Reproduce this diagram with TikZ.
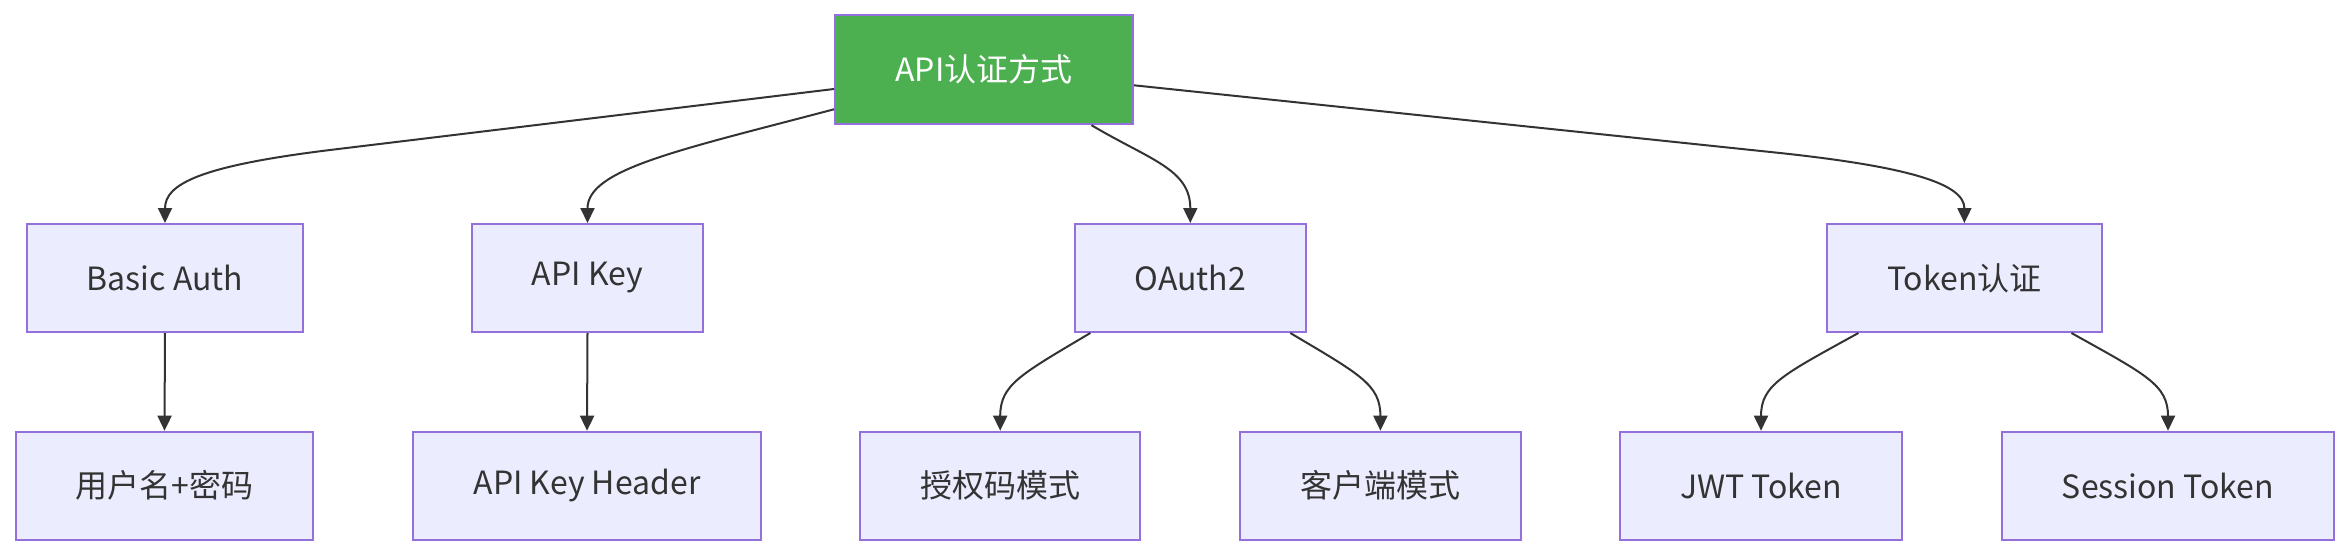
\documentclass[tikz,border=0pt]{standalone}
\usepackage{fontspec}
\setmainfont{Noto Sans CJK SC}
\usetikzlibrary{arrows.meta,calc}
\definecolor{boxfill}{HTML}{ECECFF}
\definecolor{boxline}{HTML}{9370DB}
\definecolor{rootfill}{HTML}{4CAF50}
\definecolor{edgecol}{HTML}{333333}
\begin{document}
\begin{tikzpicture}[x=0.5pt,y=-0.5pt,
  box/.style={draw=boxline,fill=boxfill,line width=1pt,inner sep=0pt,
    text=edgecol,font=\fontsize{16}{19}\selectfont,minimum height=54pt},
  rootbox/.style={box,fill=rootfill,text=white},
  conn/.style={draw=edgecol,line width=1pt,-{Triangle[length=7.5pt,width=7pt]}}]
\useasboundingbox (0,0) rectangle (2350,556);
% nodes
\node[rootbox,minimum width=149pt,minimum height=54.5pt] (root) at (984,69.7) {API认证方式};
\node[box,minimum width=138pt] (ba) at (165,278) {Basic Auth};
\node[box,minimum width=115.5pt] (ak) at (587.5,278) {API Key};
\node[box,minimum width=115.5pt] (oa) at (1190.3,278) {OAuth2};
\node[box,minimum width=137.5pt] (tk) at (1964.4,278) {Token认证};
\node[box,minimum width=148.5pt] (up) at (164.5,485.7) {用户名+密码};
\node[box,minimum width=174pt] (akh) at (587,485.7) {API Key Header};
\node[box,minimum width=140pt] (sq) at (1000.2,485.7) {授权码模式};
\node[box,minimum width=140.5pt] (kh) at (1380.4,485.7) {客户端模式};
\node[box,minimum width=141pt] (jwt) at (1761,485.7) {JWT Token};
\node[box,minimum width=166pt] (st) at (2168,485.7) {Session Token};
% connectors from root
\draw[conn] ($(root.west)+(0,19.3)$) -- (330,150) .. controls (200,166) and ($(ba.north)+(0,-39)$) .. (ba.north);
\draw[conn] ($(root.west)+(0,39.6)$) .. controls (680,150) and ($(ak.north)+(0,-54)$) .. (ak.north);
\draw[conn] ($(root.south)+(107.5,0)$) .. controls (1150,160) and ($(oa.north)+(0,-54)$) .. (oa.north);
\draw[conn] ($(root.east)+(0,15.6)$) -- (1780,153) .. controls (1910,167) and ($(tk.north)+(0,-39)$) .. (tk.north);
% connectors to leaves
\draw[conn] (ba.south) -- (up.north);
\draw[conn] (ak.south) -- (akh.north);
\draw[conn] ($(oa.south)+(-100,0)$) .. controls ($(sq.north)+(20,-56)$) and ($(sq.north)+(0,-46)$) .. (sq.north);
\draw[conn] ($(oa.south)+(100,0)$) .. controls ($(kh.north)+(-20,-56)$) and ($(kh.north)+(0,-46)$) .. (kh.north);
\draw[conn] ($(tk.south)+(-106,0)$) .. controls ($(jwt.north)+(22,-56)$) and ($(jwt.north)+(0,-46)$) .. (jwt.north);
\draw[conn] ($(tk.south)+(107,0)$) .. controls ($(st.north)+(-22,-56)$) and ($(st.north)+(0,-46)$) .. (st.north);
\end{tikzpicture}
\end{document}
